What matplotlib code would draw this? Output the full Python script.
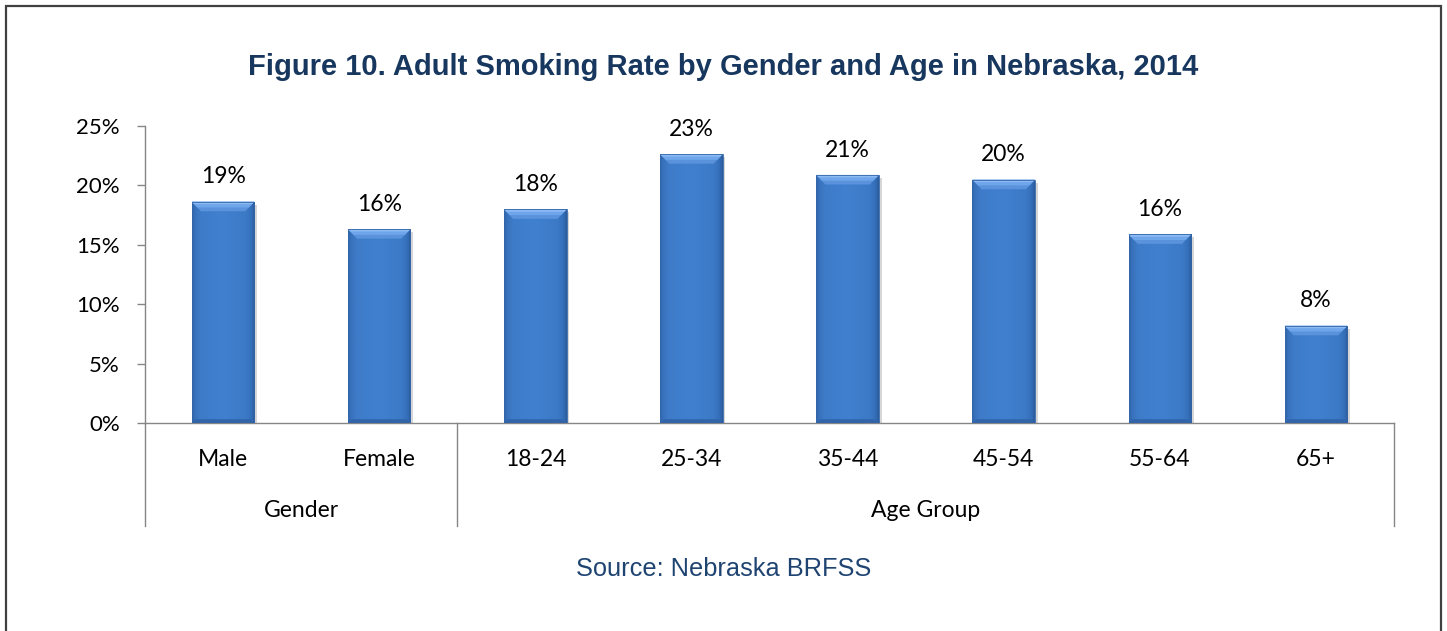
import matplotlib
matplotlib.use('Agg')
import matplotlib.pyplot as plt
import numpy as np
import matplotlib.transforms as mtransforms
import matplotlib.patheffects as pe
from matplotlib.patches import Polygon, Rectangle
from matplotlib.colors import LinearSegmentedColormap

# ---- data ----
categories = ['Male', 'Female', '18-24', '25-34', '35-44', '45-54', '55-64', '65+']
groups = ['Gender', 'Age Group']
group_sizes = [2, 6]
values = [18.6, 16.3, 17.96, 22.6, 20.85, 20.45, 15.86, 8.17]
yticks = [0, 5, 10, 15, 20, 25]
title = 'Figure 10. Adult Smoking Rate by Gender and Age in Nebraska, 2014'
source = 'Source: Nebraska BRFSS'

W, H = 1447, 631
fig = plt.figure(figsize=(W / 100, H / 100), dpi=100)
fig.patch.set_facecolor('white')

ax_left, ax_right, ax_bottom, ax_top = 145, 1394, 423, 125.6
ax = fig.add_axes([ax_left / W, 1 - ax_bottom / H, (ax_right - ax_left) / W, (ax_bottom - ax_top) / H])

LABEL_FONT = ['Lato', 'DejaVu Sans']
x = np.arange(len(categories))
bars = ax.bar(x, values, width=0.40, color='#3D7CC9', zorder=2,
              path_effects=[pe.SimplePatchShadow(offset=(2, -2), shadow_rgbFace='#9A9A9A', alpha=0.4), pe.Normal()])
ax.set_xlim(-0.5, len(categories) - 0.5)
ax.set_ylim(yticks[0], yticks[-1])

# bevel styling
body_cmap = LinearSegmentedColormap.from_list('body', [
    (0.0, '#2F64AA'), (0.05, '#3872BC'), (0.15, '#3E7CCA'), (0.5, '#4080CE'),
    (0.85, '#3C7AC7'), (0.94, '#3570BA'), (1.0, '#2B5B9C')])
grad = np.linspace(0, 1, 256).reshape(1, -1)
bx_px, by_px = 9.0, 9.5
px_per_x = (ax_right - ax_left) / (len(categories))
px_per_y = (ax_bottom - ax_top) / (yticks[-1] - yticks[0])
bx = bx_px / px_per_x
by = by_px / px_per_y
for rect in bars:
    x0 = rect.get_x()
    x1 = x0 + rect.get_width()
    h = rect.get_height()
    im = ax.imshow(grad, cmap=body_cmap, extent=(x0, x1, 0, h), aspect='auto', zorder=3, interpolation='bicubic')
    im.set_clip_path(rect)
    # top bevel
    ax.add_patch(Polygon([(x0, h), (x1, h), (x1 - bx, h - by), (x0 + bx, h - by)],
                         closed=True, facecolor='#5A93DC', edgecolor='none', zorder=4))
    ax.add_patch(Polygon([(x0, h), (x1, h), (x1 - bx * 0.6, h - by * 0.6), (x0 + bx * 0.6, h - by * 0.6)],
                         closed=True, facecolor='#6FA5EA', edgecolor='none', zorder=4))
    ax.add_patch(Polygon([(x0, h), (x1, h), (x1 - bx * 0.25, h - by * 0.25), (x0 + bx * 0.25, h - by * 0.25)],
                         closed=True, facecolor='#8BBBF2', edgecolor='none', zorder=4))
    # bottom bevel (subtle)
    ax.add_patch(Polygon([(x0, 0), (x1, 0), (x1 - bx * 0.4, by * 0.4), (x0 + bx * 0.4, by * 0.4)],
                         closed=True, facecolor='#3164A8', edgecolor='none', zorder=4))
    ax.add_patch(Rectangle((x0, 0), x1 - x0, h, facecolor='none', edgecolor='#3465A8', lw=0.6, zorder=5))

# data labels
for xi, v in zip(x, values):
    ax.annotate(f'{v:.0f}%', (xi, v), xytext=(0, 13.2), textcoords='offset points',
                ha='center', va='baseline', fontsize=16.5, color='black', family=LABEL_FONT)

# axes styling
for s in ['top', 'right']:
    ax.spines[s].set_visible(False)
for s in ['left', 'bottom']:
    ax.spines[s].set_color('#868686')
    ax.spines[s].set_linewidth(1.0)
ax.set_yticks(yticks)
ax.set_yticklabels([f'{t}%' for t in yticks], family=LABEL_FONT, fontsize=16)
ax.tick_params(axis='y', direction='out', length=6, width=1.0, color='#868686', pad=12)
ax.set_xticks([])

# multi-level category axis
trans = mtransforms.blended_transform_factory(ax.transData, ax.transAxes)
sep_bottom = -(526 - ax_bottom) / (ax_bottom - ax_top)
bounds = [-0.5]
for n in group_sizes:
    bounds.append(bounds[-1] + n)
for b in bounds:
    ax.plot([b, b], [0, sep_bottom], transform=trans, color='#868686', lw=1.0, clip_on=False)

cat_y = -(466 - ax_bottom) / (ax_bottom - ax_top)
grp_y = -(517.3 - ax_bottom) / (ax_bottom - ax_top)
for xi, c in zip(x, categories):
    ax.text(xi, cat_y, c, transform=trans, ha='center', va='baseline', fontsize=16.5, family=LABEL_FONT)
for i, g in enumerate(groups):
    ax.text((bounds[i] + bounds[i + 1]) / 2, grp_y, g, transform=trans, ha='center', va='baseline',
            fontsize=16.5, family=LABEL_FONT)

# title & source
fig.text(0.5, 1 - 75 / H, title, ha='center', va='baseline', fontsize=21, fontweight='bold',
         color='#17375E', family=['Liberation Sans', 'DejaVu Sans'])
fig.text(0.5, 1 - 576 / H, source, ha='center', va='baseline', fontsize=18.3,
         color='#1F4472', family=['Liberation Sans', 'DejaVu Sans'])

# outer border
fig.patches.append(Rectangle((6 / W, -0.02), (1441 - 6) / W, (H - 6) / H + 0.02,
                             transform=fig.transFigure, fill=False, edgecolor='#404040', lw=1.6))

fig.savefig('out.png', dpi=100, facecolor='white')
